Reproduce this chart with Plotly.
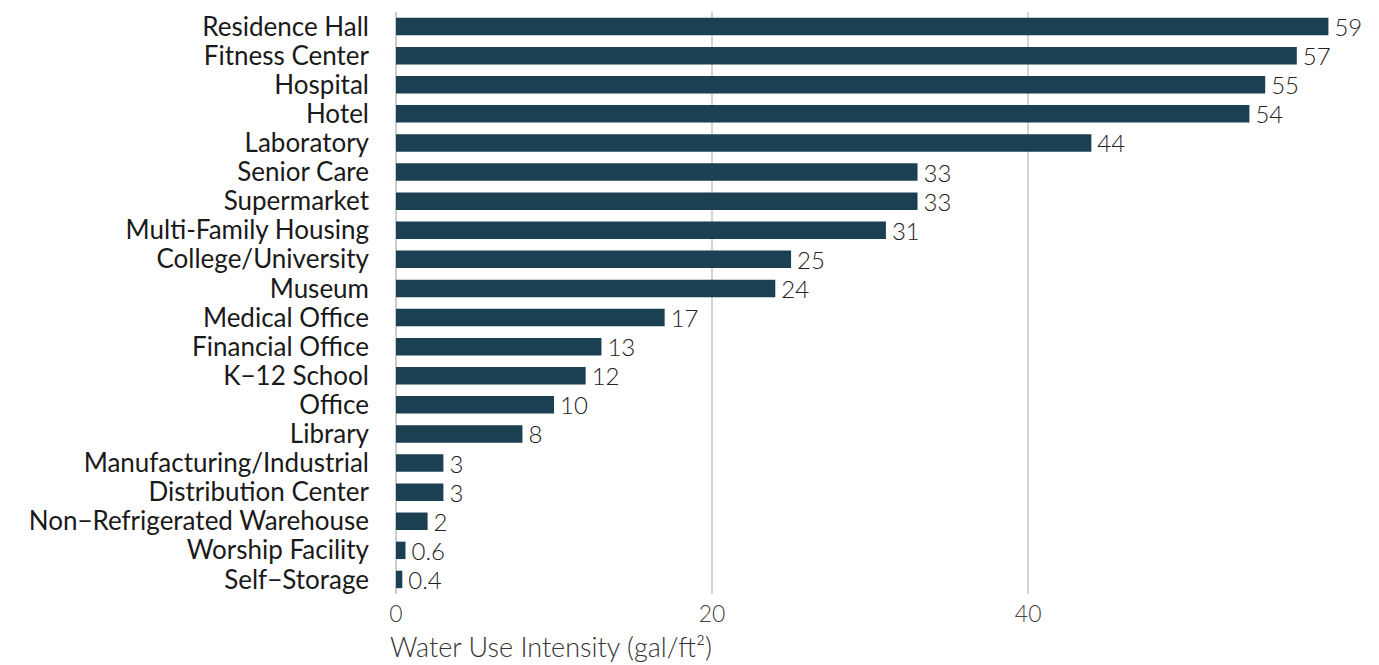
import plotly.graph_objects as go

# Water use intensity by property type (gal/ft²)
building_types = [
    "Residence Hall", "Fitness Center", "Hospital", "Hotel", "Laboratory",
    "Senior Care", "Supermarket", "Multi-Family Housing", "College/University",
    "Museum", "Medical Office", "Financial Office", "K\u221212 School", "Office",
    "Library", "Manufacturing/Industrial", "Distribution Center",
    "Non\u2212Refrigerated Warehouse", "Worship Facility", "Self\u2212Storage",
]
wui_values = [59, 57, 55, 54, 44, 33, 33, 31, 25, 24, 17, 13, 12, 10, 8, 3, 3, 2, 0.6, 0.4]
value_labels = [f"{v:g}" for v in wui_values]
x_ticks = [0, 20, 40]

FONT = "Lato"
BAR_COLOR = "#1b4052"

fig = go.Figure(
    go.Bar(
        x=wui_values,
        y=building_types,
        orientation="h",
        marker=dict(color=BAR_COLOR, line=dict(width=0)),
        text=value_labels,
        texttemplate="\u2009%{text}",
        textposition="outside",
        constraintext="none",
        cliponaxis=False,
        textfont=dict(family=FONT, size=24, color="#222222", weight=300),
        hoverinfo="x+y",
    )
)

fig.update_layout(
    width=1379,
    height=665,
    margin=dict(l=396, r=49, t=10, b=71),
    plot_bgcolor="white",
    paper_bgcolor="white",
    bargap=0.4,
    showlegend=False,
    font=dict(family=FONT),
)

fig.update_xaxes(
    range=[0, 59.1],
    tickvals=x_ticks,
    showgrid=True,
    gridcolor="#d4d4d4",
    gridwidth=2,
    zeroline=True,
    zerolinecolor="#cccccc",
    zerolinewidth=2,
    showline=False,
    ticks="",
    tickfont=dict(family=FONT, size=23, color="#444444", weight=300),
    ticklabelstandoff=4,
)

fig.update_yaxes(
    autorange="reversed",
    tickmode="array",
    tickvals=building_types,
    ticktext=building_types,
    showgrid=False,
    ticks="",
    showline=False,
    tickfont=dict(family=FONT, size=26, color="#1a1a1a"),
    ticklabelstandoff=26,
)

fig.add_annotation(
    text="Water Use Intensity (gal/ft\u00b2)",
    xref="x",
    yref="paper",
    x=0,
    y=0,
    xanchor="left",
    yanchor="top",
    xshift=-8,
    yshift=-34,
    showarrow=False,
    font=dict(family=FONT, size=27, color="#333333", weight=300),
)

fig.write_html("out.html")
